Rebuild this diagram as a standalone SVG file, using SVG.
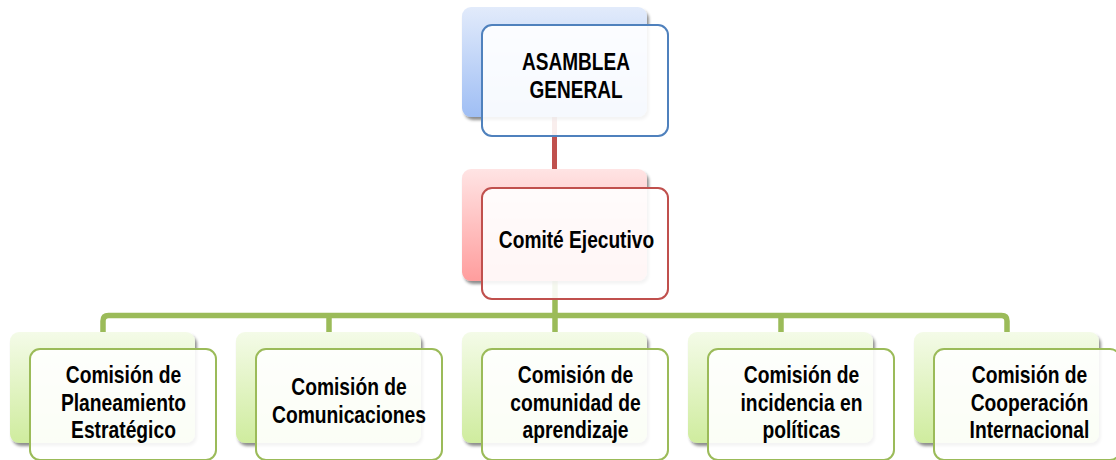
<svg xmlns="http://www.w3.org/2000/svg" width="1116" height="460" viewBox="0 0 1116 460">
<defs>
<linearGradient id="gBlue" x1="0" y1="0" x2="0" y2="1"><stop offset="0" stop-color="#e2ebfb"/><stop offset="1" stop-color="#9fbef4"/></linearGradient>
<linearGradient id="gRed" x1="0" y1="0" x2="0" y2="1"><stop offset="0" stop-color="#ffe4e4"/><stop offset="1" stop-color="#ff9d9d"/></linearGradient>
<linearGradient id="gGreen" x1="0" y1="0" x2="0" y2="1"><stop offset="0" stop-color="#f4fbe8"/><stop offset="1" stop-color="#cfec9e"/></linearGradient>
<filter id="sh" x="-10%" y="-10%" width="125%" height="130%"><feDropShadow dx="2" dy="3" stdDeviation="1.5" flood-color="#000" flood-opacity="0.45"/></filter>
</defs>
<style>
.back{filter:url(#sh)}
.front{fill:#fff;fill-opacity:0.9;stroke-width:2}
.fb{stroke:#4f81bd}.fr{stroke:#c0504d}.fg{stroke:#9bbb59}
.t{font-family:"Liberation Sans",Arial,sans-serif;font-weight:bold;font-size:23.5px;fill:#000;text-anchor:middle}
.cr{stroke:#c0504d;stroke-width:5;fill:none}
.cg{stroke:#9bbb59;stroke-width:5.5;fill:none}
</style>
<rect width="1116" height="460" fill="#fff"/>
<g id="connectors">
<line class="cr" x1="554.5" y1="117" x2="554.5" y2="170"/>
<line class="cg" x1="555" y1="281" x2="555" y2="316"/>
<path class="cg" d="M103,333 V321 Q103,315.5 108.5,315.5 H1001.5 Q1007,315.5 1007,321 V333"/>
<line class="cg" x1="329" y1="315.5" x2="329" y2="333"/>
<line class="cg" x1="555" y1="315.5" x2="555" y2="333"/>
<line class="cg" x1="781" y1="315.5" x2="781" y2="333"/>
</g>
<g id="asamblea">
<rect class="back" x="462" y="7" width="185" height="110" rx="9" fill="url(#gBlue)"/>
<rect class="front fb" x="482" y="25" width="186" height="111" rx="10"/>
<text class="t" transform="matrix(0.81 0 0 1 576 0)"><tspan x="0" y="70">ASAMBLEA</tspan><tspan x="0" y="98">GENERAL</tspan></text>
</g>
<g id="comite">
<rect class="back" x="462" y="169" width="185" height="112" rx="9" fill="url(#gRed)"/>
<rect class="front fr" x="482" y="188" width="186" height="111" rx="10"/>
<text class="t" transform="matrix(0.815 0 0 1 576.5 0)"><tspan x="0" y="248.5">Comité Ejecutivo</tspan></text>
</g>
<g id="planeamiento">
<rect class="back" x="10" y="332" width="185" height="111" rx="9" fill="url(#gGreen)"/>
<rect class="front fg" x="30" y="349" width="186" height="111" rx="10"/>
<text class="t" transform="matrix(0.82 0 0 1 123.5 0)"><tspan x="0" y="383.5">Comisión de</tspan><tspan x="0" y="411">Planeamiento</tspan><tspan x="0" y="438.5">Estratégico</tspan></text>
</g>
<g id="comunicaciones">
<rect class="back" x="236" y="332" width="185" height="111" rx="9" fill="url(#gGreen)"/>
<rect class="front fg" x="256" y="349" width="186" height="111" rx="10"/>
<text class="t" transform="matrix(0.82 0 0 1 349 0)"><tspan x="0" y="395">Comisión de</tspan><tspan x="0" y="423">Comunicaciones</tspan></text>
</g>
<g id="comunidad">
<rect class="back" x="462" y="332" width="185" height="111" rx="9" fill="url(#gGreen)"/>
<rect class="front fg" x="482" y="349" width="186" height="111" rx="10"/>
<text class="t" transform="matrix(0.82 0 0 1 575.5 0)"><tspan x="0" y="383.5">Comisión de</tspan><tspan x="0" y="411">comunidad de</tspan><tspan x="0" y="438.5">aprendizaje</tspan></text>
</g>
<g id="incidencia">
<rect class="back" x="688" y="332" width="185" height="111" rx="9" fill="url(#gGreen)"/>
<rect class="front fg" x="708" y="349" width="186" height="111" rx="10"/>
<text class="t" transform="matrix(0.82 0 0 1 801.5 0)"><tspan x="0" y="383.5">Comisión de</tspan><tspan x="0" y="411">incidencia en</tspan><tspan x="0" y="438.5">políticas</tspan></text>
</g>
<g id="cooperacion">
<rect class="back" x="914" y="332" width="185" height="111" rx="9" fill="url(#gGreen)"/>
<rect class="front fg" x="934" y="349" width="186" height="111" rx="10"/>
<text class="t" transform="matrix(0.82 0 0 1 1029.5 0)"><tspan x="0" y="383.5">Comisión de</tspan><tspan x="0" y="411">Cooperación</tspan><tspan x="0" y="438.5">Internacional</tspan></text>
</g>
</svg>
